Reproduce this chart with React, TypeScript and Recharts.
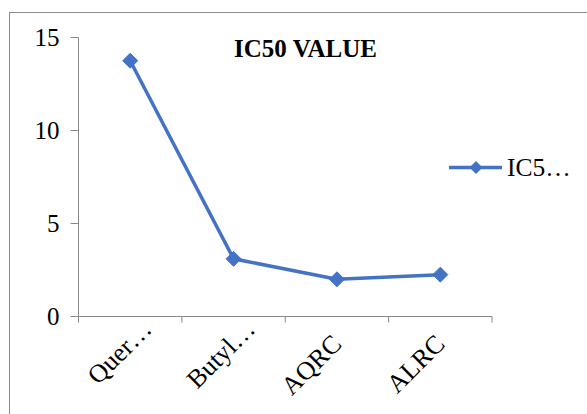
import React from "react";
import { LineChart, Line, XAxis, YAxis } from "recharts";

const categories = ["Quer…", "Butyl…", "AQRC", "ALRC"];
const ic50Values = [13.75, 3.1, 2.0, 2.25];
const yTicks = [0, 5, 10, 15];
const chartTitle = "IC50 VALUE";
const seriesName = "IC50 VALUE";
const legendLabel = "IC5…";

const data = categories.map((c, i) => ({ name: c, value: ic50Values[i] }));

const BLUE = "#4472C4";
const AXIS = "#898989";
const FONT = "'Liberation Serif', 'Times New Roman', serif";

const PLOT_LEFT = 78.5;
const PLOT_RIGHT = 492;
const BAND = (PLOT_RIGHT - PLOT_LEFT) / categories.length;

const Diamond = (props: any) => {
  const { cx, cy } = props;
  if (cx == null || cy == null) return null;
  const r = 7.5;
  return (
    <path
      d={`M${cx},${cy - r} L${cx + r},${cy} L${cx},${cy + r} L${cx - r},${cy} Z`}
      fill={BLUE}
      stroke={BLUE}
      strokeWidth={1}
    />
  );
};

const XTick = (props: any) => {
  const { x, y, payload, index, visibleTicksCount } = props;
  const half = payload && payload.offset ? payload.offset : BAND / 2;
  const label: string = payload.value;
  const truncated = label.endsWith("…");
  const ex = x + (truncated ? 23 : 6);
  const ey = y + (truncated ? 14 : 29);
  const isLast = index === (visibleTicksCount ?? categories.length) - 1;
  return (
    <g>
      <line x1={x - half} y1={y} x2={x - half} y2={y + 6} stroke={AXIS} strokeWidth={1} />
      {isLast && (
        <line x1={x + half} y1={y} x2={x + half} y2={y + 6} stroke={AXIS} strokeWidth={1} />
      )}
      <text
        x={ex}
        y={ey}
        textAnchor="end"
        fontFamily={FONT}
        fontSize={26}
        fill="#000"
        transform={`rotate(-45, ${ex}, ${ey})`}
      >
        {label}
      </text>
    </g>
  );
};

const LegendBox = () => (
  <svg width={140} height={40} style={{ display: "block" }}>
    <line x1={0} y1={17.5} x2={53} y2={17.5} stroke={BLUE} strokeWidth={3.5} />
    <path d="M27,11 L33.5,17.5 L27,24 L20.5,17.5 Z" fill={BLUE} />
    <text x={58} y={26} fontFamily={FONT} fontSize={25.5} fill="#000">
      {legendLabel}
    </text>
  </svg>
);

export default function App() {
  return (
    <div
      style={{
        position: "absolute",
        left: 0,
        top: 0,
        width: 587,
        height: 414,
        overflow: "hidden",
        background: "#fff",
      }}
    >
      <div
        style={{
          position: "absolute",
          left: 8.5,
          top: 11.5,
          width: 700,
          height: 500,
          border: "1px solid #8c8c8c",
          boxSizing: "border-box",
        }}
      />
      <div
        style={{
          position: "absolute",
          left: 0,
          top: 34,
          width: 611,
          textAlign: "center",
          fontFamily: FONT,
          fontWeight: "bold",
          fontSize: 25,
          lineHeight: "30px",
          color: "#000",
        }}
      >
        {chartTitle}
      </div>
      <div style={{ position: "absolute", left: 0, top: 0 }}>
        <LineChart
          width={587}
          height={414}
          data={data}
          margin={{ top: 37.5, right: 587 - PLOT_RIGHT, bottom: 0, left: 0 }}
        >
          <XAxis
            dataKey="name"
            scale="band"
            height={97.5}
            interval={0}
            tickLine={false}
            tickSize={0}
            tickMargin={0}
            axisLine={{ stroke: AXIS, strokeWidth: 1 }}
            tick={<XTick />}
          />
          <YAxis
            width={PLOT_LEFT}
            domain={[0, 15]}
            ticks={yTicks}
            interval={0}
            tickSize={8}
            tickMargin={11}
            axisLine={{ stroke: AXIS, strokeWidth: 1 }}
            tickLine={{ stroke: AXIS, strokeWidth: 1 }}
            tick={{ fontFamily: FONT, fontSize: 25, fill: "#000" }}
          />
          <Line
            type="linear"
            dataKey="value"
            name={seriesName}
            stroke={BLUE}
            strokeWidth={3.5}
            dot={<Diamond />}
            activeDot={false}
            isAnimationActive={false}
          />
        </LineChart>
      </div>
      <div style={{ position: "absolute", left: 449, top: 150 }}>
        <LegendBox />
      </div>
    </div>
  );
}
